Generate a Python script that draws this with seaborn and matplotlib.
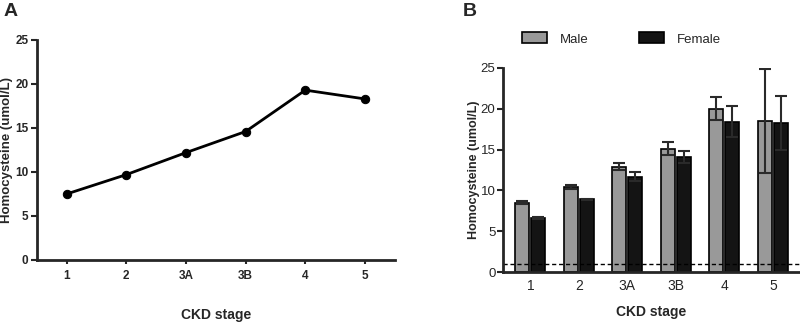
#!/usr/bin/env python3

import numpy as np
import pandas as pd
import matplotlib
matplotlib.use("Agg")
import matplotlib.pyplot as plt
from matplotlib.patches import Patch
import seaborn as sns

# values
stages = ["1", "2", "3A", "3B", "4", "5"]
overall_hcy = [7.5, 9.7, 12.2, 14.6, 19.3, 18.3]
male_hcy = [8.5, 10.4, 12.9, 15.1, 20.0, 18.5]
female_hcy = [6.6, 8.9, 11.7, 14.1, 18.4, 18.2]
male_err = [0.2, 0.25, 0.45, 0.8, 1.4, 6.4]
female_err = [0.1, 0.1, 0.5, 0.7, 1.9, 3.3]

sns.set_style("ticks")
plt.rcParams["font.family"] = ["Liberation Sans", "DejaVu Sans"]

fig = plt.figure(figsize=(8, 3.25), dpi=100)
ax_a = fig.add_axes([0.046, 0.2, 0.4475, 0.677])
ax_b = fig.add_axes([0.629, 0.163, 0.371, 0.628])

# ---- panel A: line plot of overall means
df_a = pd.DataFrame({"stage": stages, "hcy": overall_hcy, "pos": np.arange(len(stages))})
sns.lineplot(data=df_a, x="pos", y="hcy", color="black", lw=2, marker="o",
             markersize=6, markeredgecolor="black", ax=ax_a)
ax_a.set_xticks(df_a["pos"])
ax_a.set_xticklabels(stages)
ax_a.set_xlim(-0.5, 5.5)
ax_a.set_ylim(0, 25)
ax_a.set_yticks([0, 5, 10, 15, 20, 25])
ax_a.set_xlabel("CKD stage", fontsize=10, fontweight="bold", va="center")
ax_a.xaxis.set_label_coords(0.5, -0.25)
ax_a.set_ylabel("Homocysteine (umol/L)", fontsize=9.5, fontweight="bold", va="center")
ax_a.yaxis.set_label_coords(-0.084, 0.5)
ax_a.tick_params(axis="y", labelsize=8.5, width=1.5, length=4, pad=2)
ax_a.tick_params(axis="x", labelsize=8.5, width=1.5, length=3, pad=4)
for lab in ax_a.get_xticklabels() + ax_a.get_yticklabels():
    lab.set_fontweight("bold")
for s in ["left", "bottom"]:
    ax_a.spines[s].set_linewidth(2)
sns.despine(ax=ax_a)

# ---- panel B: grouped bars by sex with error bars
df_b = pd.DataFrame({
    "stage": stages * 2,
    "sex": ["Male"] * 6 + ["Female"] * 6,
    "hcy": male_hcy + female_hcy,
})
sns.barplot(data=df_b, x="stage", y="hcy", hue="sex", order=stages,
            hue_order=["Male", "Female"], palette=["#999999", "#141414"],
            width=0.66, gap=0.12, edgecolor="black", linewidth=1.2,
            errorbar=None, legend=False, ax=ax_b)
for cont, vals, errs in zip(ax_b.containers, [male_hcy, female_hcy], [male_err, female_err]):
    xs = [b.get_x() + b.get_width() / 2 for b in cont]
    ax_b.errorbar(xs, vals, yerr=errs, fmt="none", ecolor="#2a2a2a",
                  elinewidth=1.5, capsize=4, capthick=1.5, zorder=5)
ax_b.axhline(1, color="black", lw=1, ls=(0, (3, 2)))
ax_b.set_xlim(-0.56, 5.56)
ax_b.set_ylim(0, 25)
ax_b.set_yticks([0, 5, 10, 15, 20, 25])
ax_b.set_xlabel("CKD stage", fontsize=10, fontweight="bold", labelpad=9)
ax_b.set_ylabel("Homocysteine (umol/L)", fontsize=9, fontweight="bold", va="center")
ax_b.yaxis.set_label_coords(-0.1, 0.5)
ax_b.tick_params(axis="y", labelsize=9.5, width=1.5, length=4, pad=1.5)
ax_b.tick_params(axis="x", labelsize=10, length=0, pad=5)
for s in ["left", "bottom"]:
    ax_b.spines[s].set_linewidth(2)
sns.despine(ax=ax_b)

handles = [Patch(facecolor="#999999", edgecolor="black", lw=1.2, label="Male"),
           Patch(facecolor="#141414", edgecolor="black", lw=1.2, label="Female")]
fig.legend(handles=handles, loc="center", bbox_to_anchor=(0.777, 0.88), ncol=2,
           frameon=False, fontsize=9.5, handlelength=1.9, handleheight=0.9,
           columnspacing=3.8, handletextpad=1.0)

fig.text(0.004, 0.965, "A", fontsize=14, fontweight="bold", va="center")
fig.text(0.578, 0.965, "B", fontsize=14, fontweight="bold", va="center")

fig.savefig("out.png", dpi=100)
